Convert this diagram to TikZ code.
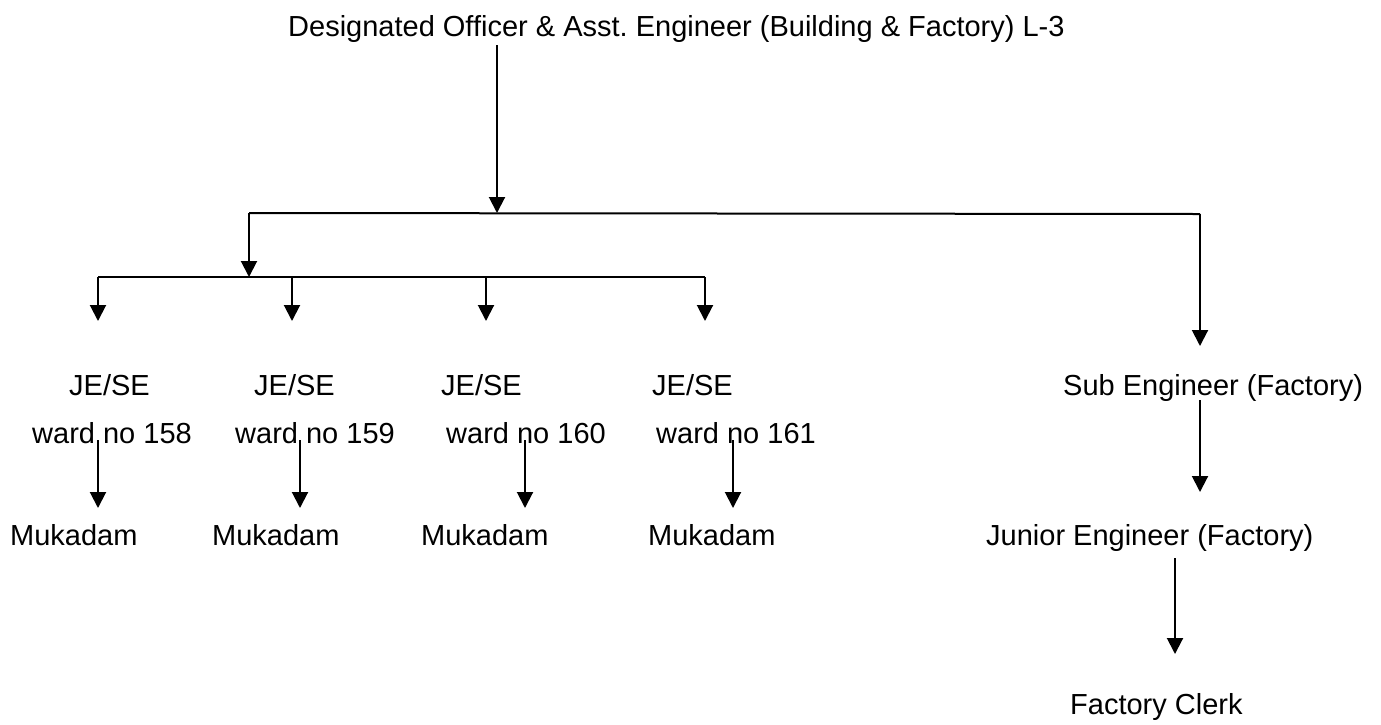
\documentclass[tikz,border=0pt]{standalone}
\usepackage{fontspec}
\setmainfont{Liberation Sans}
\usetikzlibrary{arrows.meta}
\frenchspacing
\begin{document}
\begin{tikzpicture}[x=1pt,y=-1pt,
  lbl/.style={inner sep=0pt,anchor=base west,font=\fontsize{29}{34}\selectfont},
  conn/.style={line width=2pt},
  arr/.style={conn,-{Triangle[width=16pt,length=16pt]}}]
\useasboundingbox (0,0) rectangle (1381,724);
\node[lbl] (title) at (288,36) {Designated Officer \& Asst. Engineer (Building \& Factory) L-3};
\node[lbl] (je1) at (69,395) {JE/SE};
\node[lbl] (je2) at (254,395) {JE/SE};
\node[lbl] (je3) at (441,395) {JE/SE};
\node[lbl] (je4) at (652,395) {JE/SE};
\node[lbl] (w1) at (32,443) {ward no 158};
\node[lbl] (w2) at (235,443) {ward no 159};
\node[lbl] (w3) at (446,443) {ward no 160};
\node[lbl] (w4) at (656,443) {ward no 161};
\node[lbl] (m1) at (10,545) {Mukadam};
\node[lbl] (m2) at (212,545) {Mukadam};
\node[lbl] (m3) at (421,545) {Mukadam};
\node[lbl] (m4) at (648,545) {Mukadam};
\node[lbl] (sub) at (1063,395) {Sub Engineer (Factory)};
\node[lbl] (jun) at (986,545) {Junior Engineer (Factory)};
\node[lbl] (clerk) at (1070,714) {Factory Clerk};
% junction coordinates
\coordinate (t0) at (497,45);
\coordinate (h1) at (497,213);
\coordinate (hl) at (249,213);
\coordinate (hr) at (1200,214);
\coordinate (b0) at (249,277);
\coordinate (bl) at (98,277);
\coordinate (br) at (705,277);
\draw[arr] (t0) -- (h1);
\draw[conn] (hl) -- (hr);
\draw[arr] (hl) -- (b0);
\draw[conn] (bl) -- (br);
\draw[arr] (98,277) -- (98,321);
\draw[arr] (292,277) -- (292,321);
\draw[arr] (486,277) -- (486,321);
\draw[arr] (705,277) -- (705,321);
\draw[arr] (hr) -- (1200,346);
\draw[arr] (98,440) -- (98,508);
\draw[arr] (300,440) -- (300,508);
\draw[arr] (525,440) -- (525,508);
\draw[arr] (733,440) -- (733,508);
\draw[arr] (1200,400) -- (1200,492);
\draw[arr] (1175,558) -- (1175,654);
\end{tikzpicture}
\end{document}
